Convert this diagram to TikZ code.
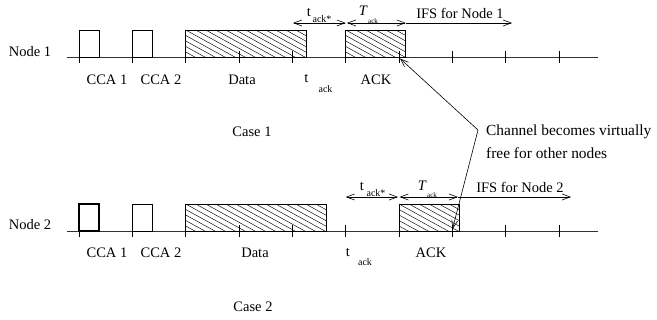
\documentclass[tikz,border=0pt]{standalone}
\usepackage{fontspec}
\setmainfont{Liberation Serif}
\usetikzlibrary{arrows.meta}
\newcommand\hatchrect[4]{%
  \begin{scope}
    \clip (#1,#2) rectangle (#3,#4);
    \foreach \k in {-60,-50,...,220} \draw[hatch] (#1+\k,#2) -- ++(60,33);
  \end{scope}
  \draw[box] (#1,#2) rectangle (#3,#4);}
\begin{document}
\begin{tikzpicture}[x=1pt,y=-1pt,
  lbl/.style={font=\fontsize{14.5}{17}\selectfont, inner sep=0pt},
  biglbl/.style={font=\fontsize{15.4}{18}\selectfont, inner sep=0pt},
  sublbl/.style={font=\fontsize{10}{12}\selectfont, inner sep=0pt},
  tinylbl/.style={font=\fontsize{7}{8}\selectfont, inner sep=0pt},
  axis/.style={line width=0.8pt, draw=black!80},
  tickmark/.style={line width=0.8pt},
  box/.style={line width=0.8pt},
  boldbox/.style={line width=1.1pt},
  hatch/.style={line width=0.45pt},
  barb/.tip={Straight Barb[length=8pt,width=6pt]},
  dimline/.style={line width=0.6pt, barb-barb},
  rightline/.style={line width=0.6pt, -barb},
  callout/.style={line width=0.6pt, -barb}]
\useasboundingbox (0,0) rectangle (657,320);

% ---------- Case 1 ----------
\draw[axis] (67,57) -- (598,57);
\foreach \x in {79,132.3,185.7,239,292.3,345.7,399,452.3,505.7,559}
  \draw[tickmark] (\x,51) -- (\x,63);
\draw[box] (79,30) rectangle (99,57);
\draw[box] (132.3,30) rectangle (152.3,57);
\hatchrect{185.7}{30}{306}{57}
\hatchrect{345.7}{30}{405.7}{57}

\coordinate (a1l) at (293,23);
\coordinate (a1m) at (345.7,23);
\coordinate (a1n) at (347,23);
\coordinate (a1r) at (405.7,23);
\coordinate (a1e) at (512,23);
\draw[dimline] (a1l) -- (a1m);
\draw[dimline] (a1n) -- (a1r);
\draw[rightline] (a1r) -- (a1e);

\node[lbl] (n1) at (30,52) {Node 1};
\node[lbl] (c11) at (107,80) {CCA 1};
\node[lbl] (c12) at (161,80) {CCA 2};
\node[lbl] (d1) at (242,80) {Data};
\node[lbl] (t1) at (306.5,78) {t};
\node[sublbl] (t1s) at (325.5,89) {ack};
\node[lbl] (k1) at (376,80) {ACK};
\node[lbl] (ta1) at (309,12) {t};
\node[sublbl] (ta1s) at (322,19.5) {ack*};
\node[lbl] (T1) at (363,11) {\itshape T};
\node[tinylbl] (T1s) at (373,21) {ack};
\node[lbl] (ifs1) at (460,13) {IFS for Node 1};
\node[lbl] (case1) at (252,132) {Case 1};

% ---------- Case 2 ----------
\draw[axis] (67,231) -- (598,231);
\foreach \x in {79,132.3,185.7,239,292.3,345.7,399,452.3,505.7,559}
  \draw[tickmark] (\x,225) -- (\x,237);
\draw[boldbox] (79,204) rectangle (99,231);
\draw[box] (132.3,204) rectangle (152.3,231);
\hatchrect{185.7}{204}{326.5}{231}
\hatchrect{399}{204}{459}{231}

\coordinate (a2l) at (345.7,197);
\coordinate (a2m) at (398,197);
\coordinate (a2n) at (399.5,197);
\coordinate (a2r) at (458,197);
\coordinate (a2e) at (571,197);
\draw[dimline] (a2l) -- (a2m);
\draw[dimline] (a2n) -- (a2r);
\draw[rightline] (a2r) -- (a2e);

\node[lbl] (n2) at (30,225) {Node 2};
\node[lbl] (c21) at (107,253) {CCA 1};
\node[lbl] (c22) at (161,253) {CCA 2};
\node[lbl] (d2) at (255,253) {Data};
\node[lbl] (t2) at (348,252) {t};
\node[sublbl] (t2s) at (365,262) {ack};
\node[lbl] (k2) at (431,253) {ACK};
\node[lbl] (ta2) at (362,186) {t};
\node[sublbl] (ta2s) at (376,193.5) {ack*};
\node[lbl] (T2) at (422,186) {\itshape T};
\node[tinylbl] (T2s) at (432,195) {ack};
\node[lbl] (ifs2) at (520,187) {IFS for Node 2};
\node[lbl] (case2) at (253,307) {Case 2};

% ---------- callout ----------
\node[biglbl, anchor=west] (ch1) at (486,132) {Channel becomes virtually};
\node[biglbl, anchor=west] (ch2) at (486,153) {free for other nodes};
\coordinate (cv) at (478,130);
\coordinate (tip1) at (400,58.5);
\coordinate (tip2) at (452.5,229);
\draw[callout] (cv) -- (tip1);
\draw[callout] (cv) -- (tip2);
\end{tikzpicture}
\end{document}
